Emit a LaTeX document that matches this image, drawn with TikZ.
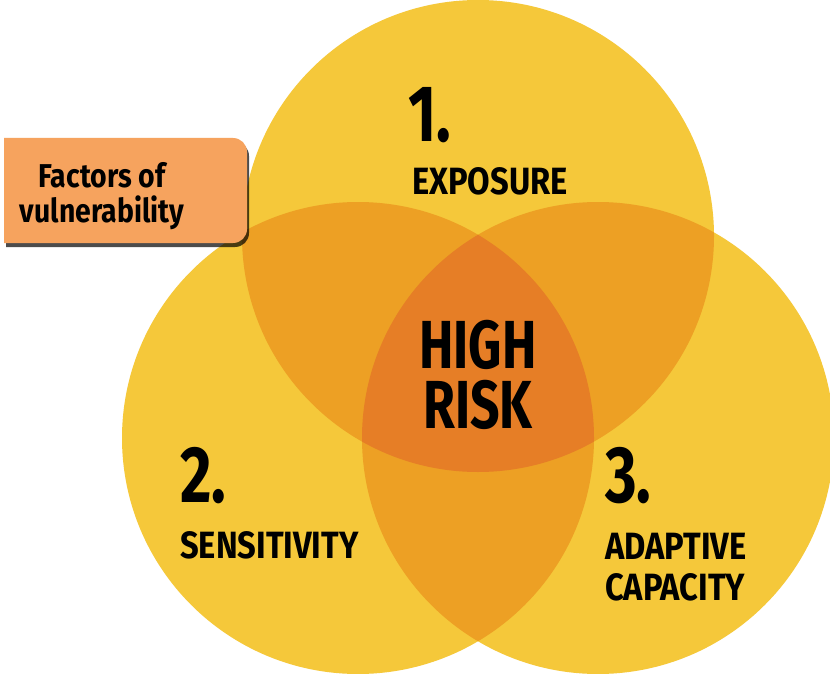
\documentclass[tikz,border=0pt]{standalone}
\usepackage{fontspec}
\newfontfamily\condfont{Fira Sans}[FakeStretch=0.76]
\newfontfamily\labelfont{Fira Sans}[FakeStretch=0.86]
\usetikzlibrary{shadows}

\definecolor{vyellow}{RGB}{245,200,58}
\definecolor{vpair}{RGB}{237,160,36}
\definecolor{vcore}{RGB}{230,126,38}
\definecolor{vlabel}{RGB}{246,163,94}

\begin{document}
\begin{tikzpicture}[
x=1pt, y=-1pt,
ring/.style={circle, minimum size=472pt, inner sep=0pt, outer sep=0pt},
num/.style={font=\condfont\bfseries\fontsize{80}{80}\selectfont, inner sep=0pt, anchor=base west},
factor/.style={font=\labelfont\bfseries\fontsize{38}{41}\selectfont, inner sep=0pt, anchor=north west, align=left},
]

\path[use as bounding box, fill=white] (0,0) rectangle (830,674);

% circles
\node[ring, fill=vyellow] (expo) at (478,236) {};
\node[ring, fill=vyellow] (sens) at (358,438) {};
\node[ring, fill=vyellow] (adapt) at (598,438) {};

% overlaps
\begin{scope}
\clip (expo.center) circle (236pt);
\fill[vpair] (sens.center) circle (236pt);
\fill[vpair] (adapt.center) circle (236pt);
\end{scope}
\begin{scope}
\clip (sens.center) circle (236pt);
\fill[vpair] (adapt.center) circle (236pt);
\clip (expo.center) circle (236pt);
\fill[vcore] (adapt.center) circle (236pt);
\end{scope}

% factors box
\fill[vlabel, drop shadow={shadow xshift=2pt, shadow yshift=-4pt, fill=black, opacity=0.7}]
  (4,243) -- (4,138) -- (233,138) arc (-90:0:14) -- (247,229) arc (0:90:14) -- cycle;
\node[font=\labelfont\bfseries\fontsize{33}{35}\selectfont, align=center, inner sep=0pt, anchor=north] (factors) at (102,162) {Factors of\\vulnerability};

% labels
\node[num] (n1) at (408,142) {1.};
\node[factor] (l1) at (412,167) {EXPOSURE};
\node[num] (n2) at (180,502) {2.};
\node[factor] (l2) at (180,531) {SENSITIVITY};
\node[num] (n3) at (605,502) {3.};
\node[factor] (l3) at (605,533) {ADAPTIVE\\CAPACITY};

% centre
\node[font=\condfont\bfseries\fontsize{68}{60}\selectfont, align=center, inner sep=0pt, anchor=north] (risk) at (478,320) {HIGH\\RISK};

\end{tikzpicture}
\end{document}
